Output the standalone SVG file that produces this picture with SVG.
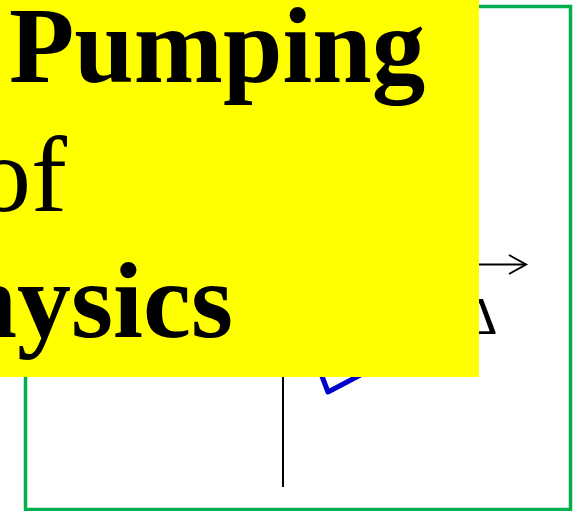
<svg xmlns="http://www.w3.org/2000/svg" width="575" height="511" viewBox="0 0 575 511">
<style>
.t{font-family:"Liberation Serif","Times New Roman",serif;font-size:108px;fill:#000}
.b{font-weight:bold}
.ln{stroke:#000;stroke-width:2;fill:none}
</style>
<rect width="575" height="511" fill="#fff"/>
<g id="frame"><rect x="25.5" y="6.5" width="545" height="503" fill="none" stroke="#00b050" stroke-width="3.5"/></g>
<g id="connectors">
<line class="ln" x1="283" y1="360" x2="283" y2="487"/>
<polyline points="312,350 328,392 368,371" fill="none" stroke="#0000cc" stroke-width="5" stroke-linejoin="round"/>
<line class="ln" x1="440" y1="264.5" x2="526" y2="264.5"/>
<polyline class="ln" points="509,255 526,264.5 509,274"/>
</g>
<g id="delta"><text class="t" x="464" y="334" style="font-size:52px">Δ</text></g>
<g id="title">
<rect x="0" y="0" width="479" height="377" fill="#ffff00"/>
<text class="t b" x="9" y="82" style="font-size:107px">Pumping</text>
<text class="t" x="-23" y="211">of</text>
<text class="t b" x="233" y="337" text-anchor="end">Physics</text>
</g>
</svg>
